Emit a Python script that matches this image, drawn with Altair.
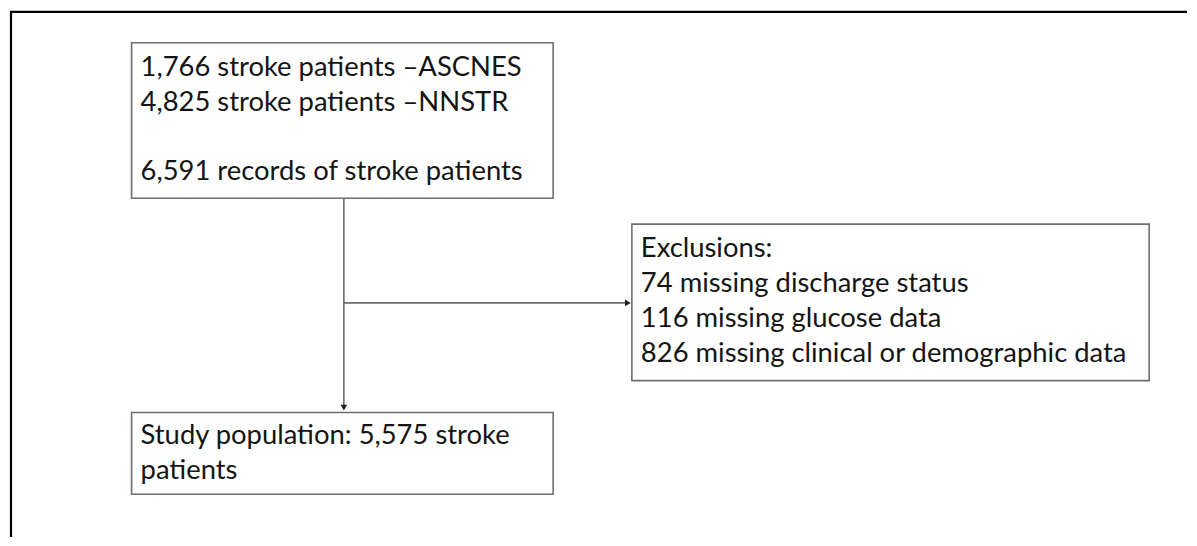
import altair as alt
import pandas as pd

# Box geometry (page pixels)
box_names = ["source", "exclusions", "study"]
box_x0 = [130, 632, 130]
box_x1 = [553, 1151, 553]
box_y0 = [42, 224, 413]
box_y1 = [198, 381, 495]

# Text lines of each box
source_lines = ["1,766 stroke patients \u2013ASCNES", "4,825 stroke patients \u2013NNSTR", "", "6,591 records of stroke patients"]
exclusion_lines = ["Exclusions:", "74 missing discharge status", "116 missing glucose data", "826 missing clinical or demographic data"]
study_lines = ["Study population: 5,575 stroke", "patients"]
first_baseline = [75, 257, 445]
line_height = 35

# Connectors
conn_x = [343, 343]
conn_y = [198, 303]
conn_x2 = [343, 628]
conn_y2 = [409, 303]
arrow_x = [343, 628]
arrow_y = [408, 303]
arrow_shape = ["triangle-down", "triangle-right"]

W, H = 1181, 528
xs = alt.Scale(domain=[8, 8 + W], range=[0, W])
ys = alt.Scale(domain=[10, 10 + H], range=[0, H])

boxes = pd.DataFrame({"name": box_names, "x0": box_x0, "x1": box_x1, "y0": box_y0, "y1": box_y1})

rows = []
for lines, bx, by in zip([source_lines, exclusion_lines, study_lines], box_x0, first_baseline):
    for i, t in enumerate(lines):
        if t:
            rows.append({"text": t, "x": bx + 9, "y": by + i * line_height})
texts = pd.DataFrame(rows)

conns = pd.DataFrame({"x": conn_x, "y": conn_y, "x2": conn_x2, "y2": conn_y2})
arrows = pd.DataFrame({"x": arrow_x, "y": arrow_y, "shape": arrow_shape})

frame = pd.DataFrame({"x": [8, 9], "y": [11, 10], "x2": [8 + W, 9], "y2": [11, 10 + H]})

box_layer = alt.Chart(boxes).mark_rect(fill="white", stroke="#6e6e6e", strokeWidth=1.6).encode(
    x=alt.X("x0:Q", scale=xs, axis=None), x2="x1:Q",
    y=alt.Y("y0:Q", scale=ys, axis=None), y2="y1:Q")

text_layer = alt.Chart(texts).mark_text(
    align="left", baseline="alphabetic", font="Lato", fontSize=27.5, color="#141414").encode(
    x=alt.X("x:Q", scale=xs, axis=None), y=alt.Y("y:Q", scale=ys, axis=None), text="text:N")

conn_layer = alt.Chart(conns).mark_rule(color="#6a6a6a", strokeWidth=1.6).encode(
    x=alt.X("x:Q", scale=xs, axis=None), x2="x2:Q",
    y=alt.Y("y:Q", scale=ys, axis=None), y2="y2:Q")

arrow_layer = alt.Chart(arrows).mark_point(filled=True, size=45, color="#222222", opacity=1).encode(
    x=alt.X("x:Q", scale=xs, axis=None), y=alt.Y("y:Q", scale=ys, axis=None),
    shape=alt.Shape("shape:N", scale=None, legend=None))

frame_layer = alt.Chart(frame).mark_rule(color="#000000", strokeWidth=2.2).encode(
    x=alt.X("x:Q", scale=xs, axis=None), x2="x2:Q",
    y=alt.Y("y:Q", scale=ys, axis=None), y2="y2:Q")

chart = alt.layer(frame_layer, conn_layer, box_layer, arrow_layer, text_layer).properties(
    width=W, height=H, padding=0, background="white"
).configure_view(stroke=None)

chart.save("out.html", embed_options={"renderer": "svg", "actions": False})
